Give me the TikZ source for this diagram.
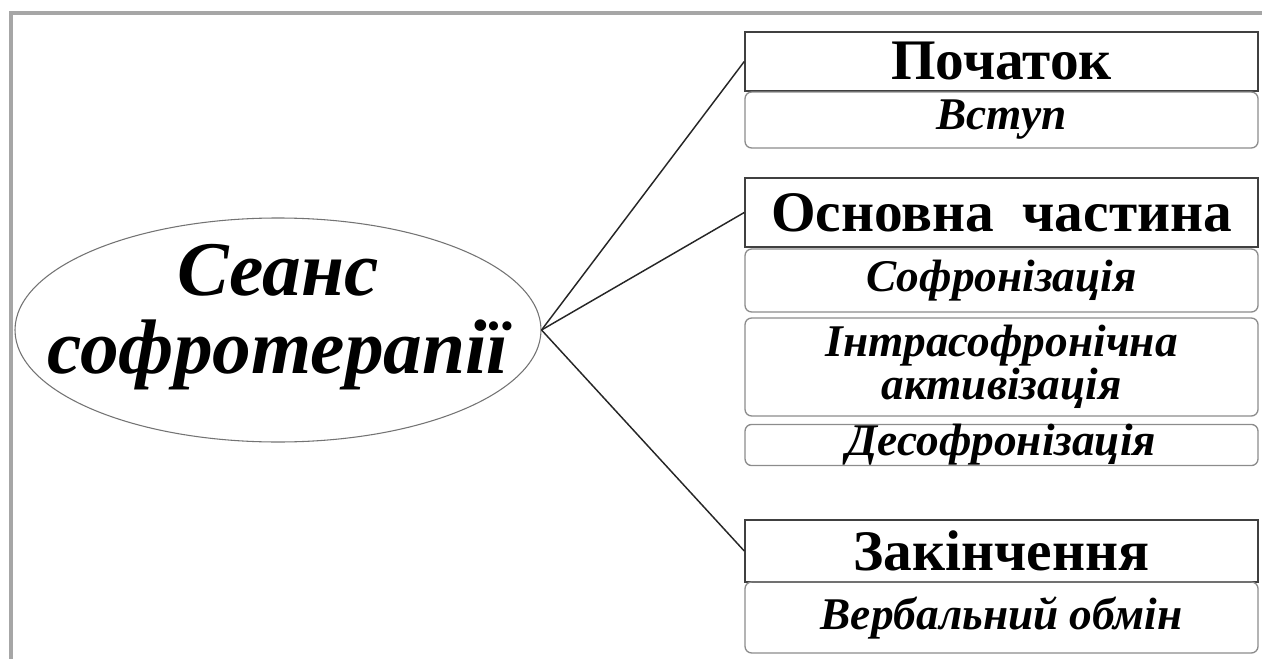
\documentclass[tikz,border=0pt]{standalone}
\usepackage{fontspec}
\setmainfont{Liberation Serif}
\usetikzlibrary{shapes.geometric}

\begin{document}
\begin{tikzpicture}[x=0.75pt,y=0.75pt,yscale=-1,xscale=1,
    head/.style={draw=black!75,line width=1.1pt,inner sep=0pt,minimum width=384.75pt,font=\fontsize{43}{45}\selectfont\bfseries},
    sub/.style={draw=black!45,line width=1pt,rounded corners=5pt,inner sep=0pt,minimum width=384.75pt,align=center,font=\fontsize{34}{27}\selectfont\bfseries\itshape},
    link/.style={draw=black!85,line width=1.1pt}]
\useasboundingbox (0,0) rectangle (1262,659);
%Frame
\draw [color=black!35,line width=2.5pt] (11,659) -- (11,13) -- (1262,13) ;
%Shape: Ellipse
\node [ellipse,draw=black!55,line width=0.8pt,inner sep=0pt,minimum width=394.5pt,minimum height=168pt] (seans) at (278,330) {};
\node [align=center,inner sep=0pt,font=\fontsize{58}{58}\selectfont\bfseries\itshape] (seanstext) at (278,317) {Сеанс\\софротерапії};
%Block: Початок
\node [head,minimum height=44.25pt] (pochatok) at (1001.5,61.5) {Початок};
\node [sub,minimum height=42pt] (vstup) at (1001.5,120) {Вступ};
%Block: Основна частина
\node [head,minimum height=51.75pt] (osnovna) at (1001.5,212.5) {Основна\ \ частина};
\node [sub,minimum height=47.25pt] (sofron) at (1001.5,280.5) {Софронізація};
\node [sub,minimum height=73.5pt] (intra) at (1001.5,367) {Інтрасофронічна\\активізація};
\node [sub,minimum height=30pt] (desof) at (1001.5,445) {Десофронізація};
%Block: Закінчення
\node [head,minimum height=46.5pt] (zakin) at (1001.5,551) {Закінчення};
\node [sub,minimum height=53.25pt] (verb) at (1001.5,617.5) {Вербальний обмін};
%Links
\draw [link] (seans.east) -- (pochatok.west) ;
\draw [link] (seans.east) -- (osnovna.west) ;
\draw [link] (seans.east) -- (zakin.west) ;
\end{tikzpicture}
\end{document}
